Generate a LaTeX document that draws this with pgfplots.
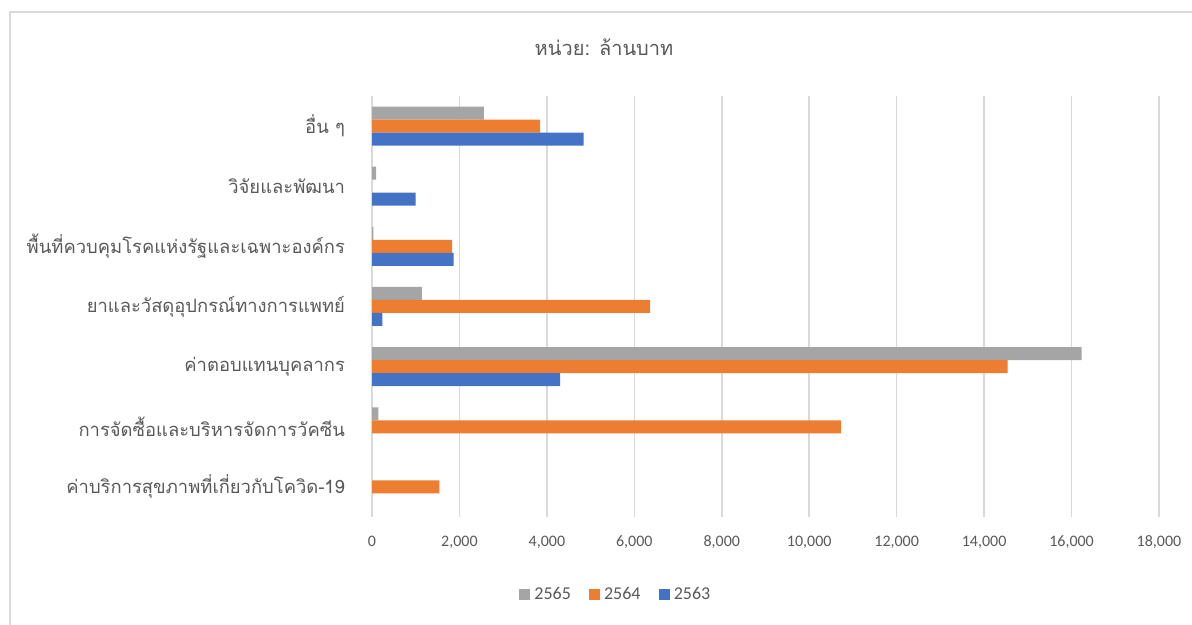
\documentclass[border=0pt]{standalone}
\usepackage{pgfplots}
\pgfplotsset{compat=1.18}
\usepackage{fontspec}
\setmainfont{Carlito}
\newfontfamily\thaifont[Script=Thai]{Loma}
\definecolor{cgray}{HTML}{A5A5A5}
\definecolor{corange}{HTML}{ED7D31}
\definecolor{cblue}{HTML}{4472C4}
\definecolor{ctext}{HTML}{595959}
\definecolor{cgrid}{HTML}{D9D9D9}
\begin{document}
\begin{tikzpicture}
\path[use as bounding box] (0,0) rectangle (596pt,-312.5pt);
\draw[cgrid, line width=0.6pt] (5pt,-6pt) rectangle (620pt,-330pt);
\node[text=ctext,font=\thaifont\fontsize{10}{12}\selectfont] at (302pt,-23.5pt) {หน่วย: ล้านบาท};
\begin{axis}[
  at={(186pt,-48pt)}, anchor=north west, scale only axis,
  width=393.5pt, height=210.5pt,
  xbar, bar width=6.5pt,
  xmin=0, xmax=18000, ymin=-0.5, ymax=6.5,
  xtick={0,2000,...,18000},
  ytick={0,1,2,3,4,5,6},
  yticklabels={ค่าบริการสุขภาพที่เกี่ยวกับโควิด-19, การจัดซื้อและบริหารจัดการวัคซีน, ค่าตอบแทนบุคลากร, ยาและวัสดุอุปกรณ์ทางการแพทย์, พื้นที่ควบคุมโรคแห่งรัฐและเฉพาะองค์กร, วิจัยและพัฒนา, อื่น ๆ},
  yticklabel style={font=\thaifont\fontsize{9.2}{11}\selectfont, text=ctext, xshift=-10pt},
  xticklabel style={font=\fontsize{8}{10}\selectfont, text=ctext, yshift=-6pt},
  /pgf/number format/assume math mode=true,
  /pgf/number format/1000 sep={,},
  scaled x ticks=false,
  axis line style={draw=none},
  major tick length=0pt,
  xmajorgrids, ymajorgrids=false,
  grid style={cgrid, line width=0.8pt},
  legend columns=3,
  legend style={at={(0.311,-0.185)}, anchor=center, draw=none, fill=none,
    font=\fontsize{9}{11}\selectfont, text=ctext,
    /tikz/every even column/.append style={column sep=7pt}},
  legend image code/.code={\fill[#1] (0pt,-2.8pt) rectangle (5.6pt,2.8pt);},
]
\addplot[fill=cgray, draw=none, bar shift=6.5pt] coordinates {
 (2560,6) (95,5) (30,4) (1140,3) (16230,2) (145,1)};
\addplot[fill=corange, draw=none, bar shift=0pt] coordinates {
 (3845,6) (1830,4) (6360,3) (14540,2) (10730,1) (1540,0)};
\addplot[fill=cblue, draw=none, bar shift=-6.5pt] coordinates {
 (4840,6) (1000,5) (1865,4) (235,3) (4300,2)};
\legend{2565,2564,2563}
\end{axis}
\end{tikzpicture}
\end{document}
